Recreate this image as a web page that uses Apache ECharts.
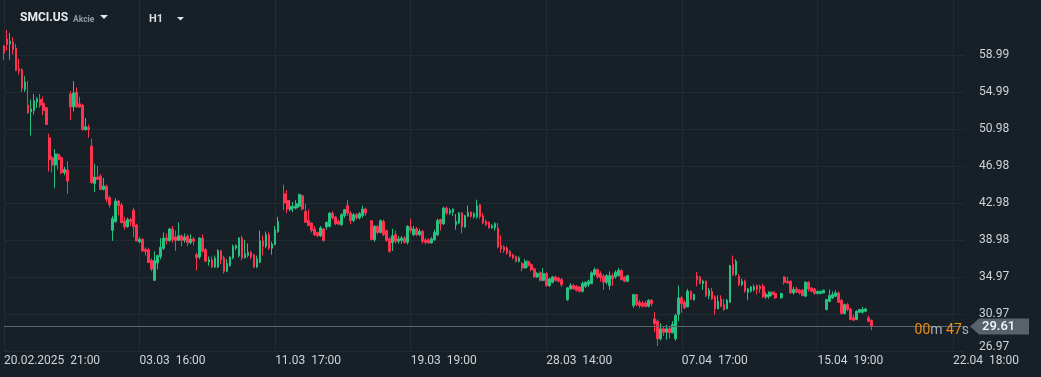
<!DOCTYPE html>
<html><head><meta charset="utf-8">
<script src="https://cdn.jsdelivr.net/npm/echarts@6/dist/echarts.min.js"></script>
<style>html,body{margin:0;padding:0;background:#172027;overflow:hidden}#c{width:1041px;height:377px}</style>
</head><body><div id="c"></div>
<script>
// ---- data (hourly candles, SMCI.US) ----
const opens = [
60.0,60.75,60.21,60.43,59.78,57.54,57.43,55.27,53.59,52.86,
53.0,53.94,54.19,53.8,53.3,50.05,47.9,47.1,48.25,47.9,
46.27,46.56,54.8,53.4,55.0,53.73,53.59,50.95,51.2,49.15,
45.1,45.8,45.9,44.46,44.8,43.57,40.03,40.97,43.2,42.77,
41.05,40.43,41.2,42.2,40.6,38.8,39.05,37.98,37.94,36.75,
34.62,36.5,37.2,38.1,39.2,38.9,40.18,39.3,38.95,39.45,
38.95,39.4,38.7,39.1,37.4,37.15,39.2,37.94,36.6,36.86,
36.07,36.07,37.83,37.05,35.6,36.2,37.05,38.1,37.3,39.2,
37.05,37.3,37.65,37.4,36.07,36.57,38.9,38.3,39.56,38.1,
38.5,39.9,43.99,43.27,42.27,42.45,42.45,42.63,43.78,42.08,
41.1,40.83,40.18,39.8,39.45,40.18,40.4,40.46,41.9,41.47,
41.0,40.65,41.62,42.7,41.9,41.1,41.73,41.37,41.62,42.34,
41.08,39.02,40.46,39.8,41.0,40.0,39.1,38.7,39.56,38.85,
38.95,39.2,38.74,40.4,39.56,40.18,39.56,39.92,39.0,39.0,
38.67,39.02,39.56,41.2,40.75,42.45,41.9,42.0,40.64,40.83,
41.91,40.4,41.55,41.98,41.5,41.5,42.8,41.62,41.0,40.9,
40.3,40.3,40.3,38.38,38.24,38.13,37.76,37.4,37.22,36.68,
36.43,35.96,36.68,36.32,35.86,34.99,35.43,34.62,35.35,34.05,
34.41,34.99,34.88,34.7,32.53,33.7,34.05,33.98,33.91,33.44,
33.98,34.16,34.27,35.24,35.78,35.35,35.06,34.41,34.05,35.13,
34.99,35.13,35.7,34.99,34.52,31.89,33.08,32.24,32.18,32.18,
31.81,32.46,30.45,30.19,28.29,29.37,29.0,29.37,28.94,28.29,
30.92,32.72,32.24,31.75,33.44,32.54,35.13,34.99,34.27,34.52,
32.97,33.44,32.83,31.53,32.6,32.0,31.53,32.24,36.32,35.24,
35.06,34.16,34.52,33.33,33.44,33.62,34.05,33.97,33.97,32.83,
32.9,33.33,33.19,32.72,34.99,34.52,34.52,33.26,33.69,33.55,
33.55,32.9,34.41,33.8,33.69,33.19,33.19,33.26,31.46,32.35,
32.72,32.9,33.26,32.46,31.02,31.99,31.53,30.56,30.38,31.17,
31.17,31.27,30.56,30.3];
const closes = [
59.24,60.14,60.5,59.6,57.33,57.26,55.38,56.1,52.75,53.19,
54.05,54.27,53.59,53.0,51.49,47.7,47.1,48.3,47.7,46.27,
46.62,45.37,53.4,54.9,53.4,53.4,50.95,51.24,50.95,45.19,
45.8,45.55,44.46,44.83,43.4,42.8,41.3,43.2,42.7,40.86,
40.43,41.2,40.97,40.43,38.88,39.05,37.8,37.73,36.55,35.85,
36.75,37.3,38.2,39.2,38.9,40.18,39.02,38.95,39.45,38.95,
39.3,38.7,39.1,38.85,37.07,39.2,37.76,36.7,36.86,36.07,
37.05,37.83,36.86,35.6,36.43,37.15,38.3,38.38,39.2,37.05,
37.5,37.65,37.15,36.07,36.95,38.9,38.3,39.56,38.1,38.55,
40.1,41.0,42.99,42.34,42.63,42.63,42.92,43.9,42.34,40.9,
40.54,40.03,39.56,39.45,40.3,38.95,40.9,41.9,41.37,40.75,
40.7,41.73,42.27,41.9,41.1,41.73,41.37,41.84,42.34,41.9,
39.02,40.46,39.8,41.08,39.56,38.95,37.76,39.45,38.85,39.1,
39.2,38.74,40.46,40.03,40.18,39.56,39.92,38.85,38.74,38.67,
39.1,39.8,41.1,40.75,42.45,41.9,42.2,42.34,41.0,41.91,
40.4,41.62,41.98,41.55,41.84,42.7,41.5,40.83,40.64,40.3,
40.54,40.75,38.24,38.02,37.87,37.58,37.22,37.05,36.68,37.05,
35.96,36.68,36.2,35.78,34.99,35.35,34.62,35.35,34.05,34.77,
34.99,34.62,34.52,34.16,33.8,34.05,33.7,33.55,33.44,34.27,
34.41,34.52,35.43,35.78,34.99,34.88,34.41,35.13,35.13,34.77,
35.5,35.7,34.7,34.52,35.13,33.08,31.99,31.89,31.81,31.81,
32.46,32.1,29.94,28.29,29.37,29.0,29.37,28.94,29.83,30.81,
32.72,32.1,31.64,33.44,32.6,33.08,34.7,34.27,34.52,32.97,
33.55,32.6,31.53,32.35,31.81,31.46,32.46,36.21,35.24,36.68,
34.16,34.52,33.44,33.69,33.91,33.91,33.62,33.69,32.83,33.08,
33.33,33.08,32.72,33.19,34.41,34.34,33.26,33.62,33.33,33.26,
32.97,34.41,33.69,33.43,33.19,33.43,33.43,33.55,32.54,32.97,
33.08,33.26,32.24,31.02,31.99,31.46,30.38,30.3,31.27,31.46,
31.46,31.53,30.19,29.61];
const highs = [
60.1,61.73,61.4,60.94,60.21,58.6,57.6,56.72,56.18,54.19,
54.8,54.45,54.8,54.5,53.4,50.5,48.1,48.8,48.4,48.1,
46.9,47.5,55.1,56.18,55.5,54.5,53.7,52.2,51.5,49.94,
47.2,47.0,46.1,45.7,45.0,43.8,41.6,43.5,43.3,43.0,
41.5,41.4,41.4,42.5,40.75,39.3,39.2,38.2,38.1,37.0,
37.76,37.4,39.2,39.8,39.7,40.3,40.5,40.0,40.9,39.6,
39.7,39.6,39.6,39.3,37.6,39.3,39.6,38.1,37.2,37.2,
37.3,38.0,37.9,37.3,36.9,37.2,38.5,38.5,39.3,39.45,
39.0,38.6,37.8,37.5,37.3,40.0,39.5,39.9,39.8,38.8,
40.5,41.5,44.97,44.4,43.3,43.1,43.3,44.0,43.9,42.9,
42.3,40.9,40.5,39.9,40.5,40.3,41.0,42.0,42.1,41.6,
41.2,41.9,42.3,43.3,42.1,41.9,41.9,42.0,42.7,42.5,
41.1,40.6,40.6,41.2,41.2,40.1,39.3,40.2,40.0,39.4,
39.4,39.4,40.6,41.3,40.5,40.4,40.2,40.1,39.2,39.2,
39.3,40.1,41.3,41.3,42.6,42.6,42.4,42.4,41.8,42.0,
42.0,41.7,42.7,42.1,42.0,43.35,42.9,41.9,41.2,41.0,
40.7,40.9,40.83,39.5,38.4,38.3,37.9,37.5,37.3,37.2,
36.6,36.9,36.8,36.5,36.0,35.5,35.6,35.96,35.5,34.9,
35.1,35.1,35.0,34.9,33.9,34.3,34.2,34.1,34.0,34.5,
34.5,34.7,35.6,36.0,35.9,35.6,35.3,35.3,35.6,35.4,
35.7,35.96,35.8,35.1,35.2,33.1,33.1,32.5,32.4,32.4,
32.6,32.6,31.17,30.38,30.0,29.6,29.8,29.6,30.2,31.0,
34.05,32.9,32.5,33.7,33.5,33.2,35.5,35.1,34.7,34.6,
33.8,33.8,33.0,33.0,33.0,32.6,32.6,36.3,37.3,36.9,
35.3,34.8,34.7,33.8,34.0,34.16,34.16,34.16,34.27,33.33,
33.44,33.44,33.44,33.26,35.06,34.99,34.62,33.91,33.91,33.69,
33.69,34.52,34.52,33.91,33.8,33.5,33.5,33.62,32.61,33.62,
33.43,33.55,33.43,32.61,32.1,32.18,31.64,30.92,31.38,31.53,
31.75,31.64,30.81,30.38];
const lows = [
58.5,59.5,58.5,59.06,57.26,56.9,55.0,55.03,52.65,50.3,
52.57,53.3,53.3,52.5,51.45,46.4,46.3,44.6,46.6,46.1,
46.0,44.0,52.0,52.9,53.3,53.3,50.8,50.8,50.05,45.1,
44.2,45.5,44.4,44.35,43.1,42.5,38.9,40.85,41.7,40.8,
40.1,40.3,40.5,39.3,38.85,38.65,37.7,37.3,36.5,35.6,
34.6,35.8,36.9,37.9,38.5,38.8,38.7,37.8,38.9,38.3,
38.7,38.3,38.5,38.4,35.7,36.9,37.65,36.6,36.2,35.95,
35.95,35.95,36.4,35.35,35.5,36.1,36.9,37.9,37.1,36.8,
37.0,37.1,36.9,35.95,35.95,36.5,37.3,38.1,37.9,37.4,
38.4,39.75,42.2,41.9,42.1,42.0,42.3,42.5,42.2,40.85,
40.5,39.8,39.4,39.3,39.3,38.8,40.1,40.35,41.2,40.6,
40.6,40.5,41.4,41.6,40.7,40.9,41.2,41.2,41.4,41.6,
39.0,38.8,39.6,39.7,39.4,38.8,37.6,37.8,38.6,38.6,
38.6,38.6,38.5,39.75,39.4,39.4,39.4,38.6,38.5,38.6,
38.6,38.9,39.4,40.0,40.6,41.7,41.7,41.6,40.1,40.7,
39.7,40.3,41.5,41.4,41.3,41.3,41.3,40.7,40.5,40.2,
40.2,40.0,38.1,37.6,37.6,37.4,37.1,36.9,36.55,36.55,
35.6,35.9,36.0,35.6,34.9,34.9,34.5,34.5,33.9,33.9,
34.3,34.5,34.4,33.9,32.4,33.6,33.6,33.4,33.3,33.3,
33.8,33.9,34.2,35.1,34.8,34.5,33.6,34.2,33.6,34.0,
34.8,35.06,34.6,34.4,34.4,31.64,31.8,31.6,31.7,31.7,
31.7,31.8,29.0,27.5,28.1,28.6,28.2,28.3,28.9,28.1,
30.2,31.1,31.5,31.7,32.5,32.4,33.97,34.2,33.6,32.8,
32.6,32.5,30.92,31.5,31.7,31.3,31.5,32.2,35.1,35.1,
34.0,34.0,33.3,32.5,33.3,33.43,33.08,33.26,32.72,32.61,
32.61,32.9,32.61,32.65,34.16,34.27,33.19,33.08,33.26,33.08,
32.9,32.83,33.43,33.33,33.08,33.1,33.1,33.2,31.38,32.24,
32.61,32.83,32.18,30.92,30.92,31.27,30.3,30.3,30.3,31.1,
31.02,31.17,30.08,29.22];
// candle numbers (1-based) that are followed by one empty hour slot
const gapAfter = [92, 120, 184, 205, 253];
const xTickLabels = ['20.02.2025  21:00', '03.03  16:00', '11.03  17:00', '19.03  19:00',
                     '28.03  14:00', '07.04  17:00', '15.04  19:00', '22.04  18:00'];
const yTickLabels = ['26.97', '30.97', '34.97', '38.98', '42.98', '46.98', '50.98', '54.99', '58.99'];
const symbolName = 'SMCI.US';
const assetType = 'Akcie';
const timeframe = 'H1';
const countdownMin = '00';
const countdownSec = '47';

// ---- build ----
const slotCount = 320, labelEvery = 45;
const yMin = 26.97, yMax = 64.97, yStep = 4;
const cats = [];
for (let i = 0; i < slotCount; i++) cats.push(String(i));
const data = [];
for (let i = 0; i < opens.length; i++) {
  const o = opens[i], c = closes[i];
  data.push([o, c, Math.min(lows[i], o, c), Math.max(highs[i], o, c)]);
  if (gapAfter.indexOf(i + 1) >= 0) data.push('-');
}
const lastClose = closes[closes.length - 1];

const BG = '#172027', GRID = '#222b32', TXT = '#cfd4d8';
const UP = '#26c281', DOWN = '#ff3350';
const F = 'Roboto, "Noto Sans", sans-serif';

const chart = echarts.init(document.getElementById('c'), null, {renderer: 'canvas'});
const splitColors = yTickLabels.map(() => GRID).concat(['rgba(0,0,0,0)', 'rgba(0,0,0,0)', 'rgba(0,0,0,0)']);
chart.setOption({
  animation: false,
  backgroundColor: BG,
  grid: {left: 4, right: 76, top: 0, bottom: 26, containLabel: false},
  xAxis: {
    type: 'category', data: cats, boundaryGap: false,
    axisLine: {show: true, lineStyle: {color: GRID, width: 1}},
    axisTick: {show: false},
    splitLine: {show: true, interval: labelEvery - 1, lineStyle: {color: GRID, width: 1}},
    axisLabel: {
      interval: labelEvery - 1, align: 'left', margin: 4,
      color: TXT, fontFamily: F, fontSize: 12,
      formatter: (v) => { const k = Number(v); return k % labelEvery === 0 ? (xTickLabels[k / labelEvery] || '') : ''; }
    }
  },
  yAxis: {
    type: 'value', position: 'right', scale: true,
    min: yMin, max: yMax, interval: yStep,
    axisLine: {show: false}, axisTick: {show: false},
    splitLine: {show: true, lineStyle: {color: splitColors, width: 1}},
    axisLabel: {
      margin: 14, color: TXT, fontFamily: F, fontSize: 12, showMaxLabel: false,
      formatter: (v) => {
        const k = Math.round((v - yMin) / yStep);
        const t = yTickLabels[k] || '';
        return k === 0 ? '{low|' + t + '}' : t;
      },
      rich: {low: {color: TXT, fontFamily: F, fontSize: 12, padding: [0, 0, 8, 0]}}
    }
  },
  series: [{
    type: 'candlestick', data: data, barWidth: 2.2,
    itemStyle: {color: UP, color0: DOWN, borderColor: UP, borderColor0: DOWN, borderWidth: 1},
    markLine: {
      silent: true, symbol: 'none', animation: false,
      label: {show: false},
      lineStyle: {color: '#5b6770', type: 'solid', width: 1},
      data: [{yAxis: lastClose}]
    }
  }]
});

// price tag and header (positions of the tag come from the chart's own scale)
const py = chart.convertToPixel({yAxisIndex: 0}, lastClose);
const gx = chart.convertToPixel({xAxisIndex: 0}, String(slotCount - 1));
const tipX = gx + 5;
chart.setOption({
  graphic: [
    {type: 'text', left: 20, top: 12, style: {text: symbolName, fill: '#e9edf0', font: 'bold 12px ' + F}},
    {type: 'text', left: 73, top: 15, style: {text: assetType, fill: '#8d9ba6', font: 'bold 8.5px ' + F}},
    {type: 'polygon', shape: {points: [[100, 15], [108, 15], [104, 19]]}, style: {fill: '#e3e7ea'}},
    {type: 'text', left: 149, top: 14, style: {text: timeframe, fill: '#d8dde0', font: 'bold 11px ' + F}},
    {type: 'polygon', shape: {points: [[177, 17], [184, 17], [180.5, 20.5]]}, style: {fill: '#e3e7ea'}},
    {type: 'polygon', shape: {points: [[tipX, py], [tipX + 9, py - 8], [1029, py - 8], [1029, py + 8], [tipX + 9, py + 8]]},
     style: {fill: '#56636c'}, z: 100},
    {type: 'text', x: tipX + 12, y: py, z: 101,
     style: {text: lastClose.toFixed(2), fill: '#f3f5f6', font: '500 13px ' + F, textVerticalAlign: 'middle'}},
    {type: 'text', x: tipX - 1, y: py + 4, z: 101,
     style: {
       text: '{o|' + countdownMin + '}{g|m }{o|' + countdownSec + '}{g|s}',
       textAlign: 'right', textVerticalAlign: 'middle',
       rich: {o: {fill: '#f08c10', font: '14px ' + F}, g: {fill: '#a3adb4', font: '14px ' + F}}
     }}
  ]
});
</script>
</body></html>
